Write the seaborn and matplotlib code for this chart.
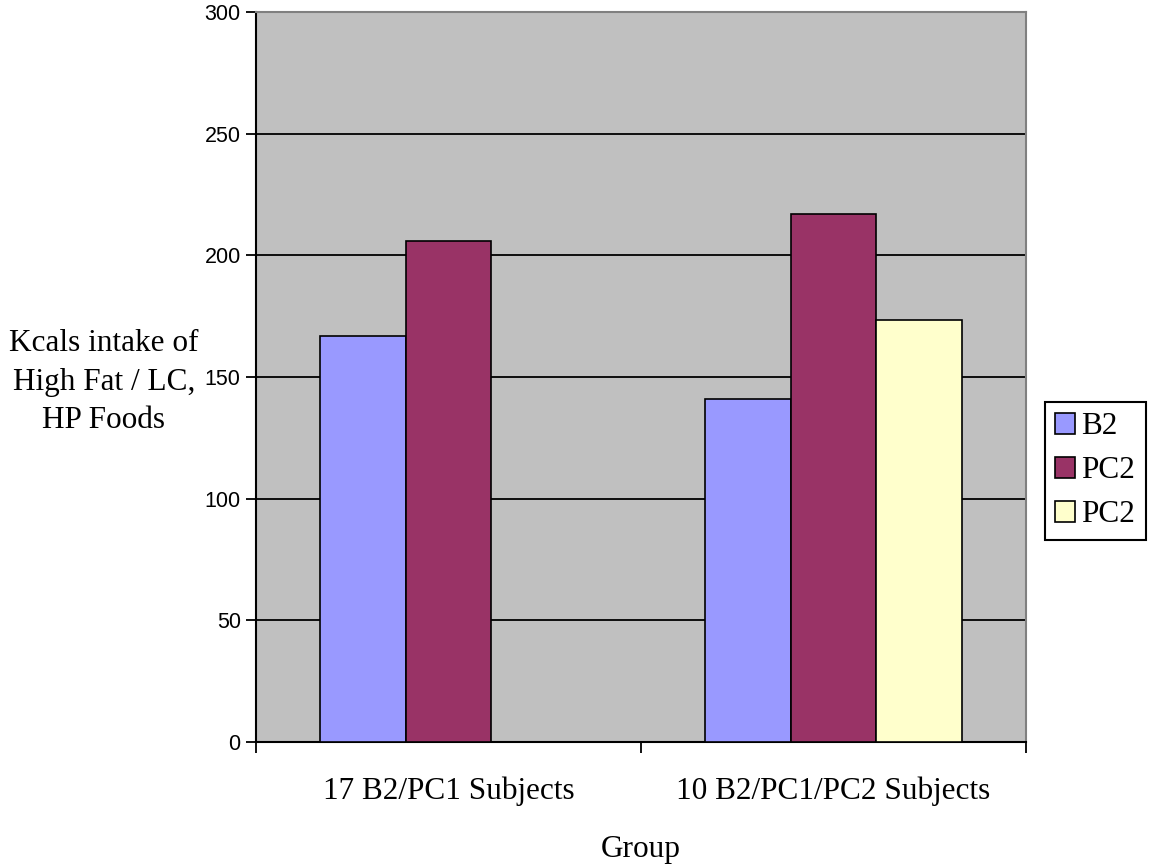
import matplotlib
matplotlib.use("Agg")
import matplotlib.pyplot as plt
from matplotlib.patches import Patch
from matplotlib.ticker import FixedLocator
import pandas as pd
import seaborn as sns

# Chart data
groups = ["17 B2/PC1 Subjects", "10 B2/PC1/PC2 Subjects"]
series_names = ["B2", "PC2", "PC2"]
series_colors = ["#9999FF", "#993366", "#FFFFCC"]
b2_values = [167, 141]
pc2_values = [206, 217]
pc2_late_values = [None, 173.5]  # second PC2 only measured in the 10-subject group
y_ticks = [0, 50, 100, 150, 200, 250, 300]

rows = []
for s_idx, vals in enumerate([b2_values, pc2_values, pc2_late_values]):
    for g, v in zip(groups, vals):
        if v is not None:
            rows.append({"group": g, "series": s_idx, "kcal": v})
df = pd.DataFrame(rows)

sns.set_theme(style="white")
serif = ["Liberation Serif", "DejaVu Serif"]
sans = ["Liberation Sans", "DejaVu Sans"]
plt.rcParams["font.family"] = serif
plt.rcParams["text.color"] = "black"
plt.rcParams["axes.labelcolor"] = "black"
plt.rcParams["xtick.color"] = "black"
plt.rcParams["ytick.color"] = "black"

fig = plt.figure(figsize=(11.52, 8.67), dpi=100)
ax = fig.add_axes([256 / 1152, 1 - 742 / 867, 770 / 1152, 730 / 867])
ax.set_facecolor("#C0C0C0")

sns.barplot(
    data=df, x="group", y="kcal", hue="series", order=groups,
    hue_order=[0, 1, 2], palette=series_colors, width=0.67, gap=0,
    edgecolor="black", linewidth=1.2, saturation=1, legend=False, ax=ax,
    zorder=3,
)

ax.set_xlim(-0.5, 1.5)
ax.set_ylim(0, 300)
ax.set_yticks(y_ticks)
ax.set_yticklabels([str(t) for t in y_ticks], family=sans, fontsize=15.5, color="black")
for t in y_ticks[1:-1]:
    ax.axhline(t, color="black", linewidth=1.3, zorder=1)

# Category labels centred, tick marks on the category boundaries
ax.xaxis.set_minor_locator(FixedLocator([-0.5, 0.5, 1.5]))
ax.tick_params(axis="x", which="major", length=0, pad=25, labelsize=22.5, labelcolor="black")
ax.tick_params(axis="x", which="minor", length=8, width=1.3, color="black", direction="out", bottom=True)
ax.tick_params(axis="y", which="major", length=7, width=1.3, color="black", direction="out", left=True, pad=4)
for lab in ax.get_xticklabels():
    lab.set_family(serif)

for side in ["left", "bottom"]:
    ax.spines[side].set_color("black")
    ax.spines[side].set_linewidth(1.5)
for side in ["top", "right"]:
    ax.spines[side].set_color("#808080")
    ax.spines[side].set_linewidth(1.5)
    ax.spines[side].set_visible(True)

ax.set_xlabel("Group", fontsize=22.5, va="center", color="black")
ax.xaxis.set_label_coords(0.5, (742 - 850) / 730)
ax.set_ylabel("Kcals intake of\nHigh Fat / LC,\nHP Foods", fontsize=22.5, rotation=0,
              ha="center", va="center", multialignment="center", linespacing=1.45,
              color="black")
ax.yaxis.set_label_coords((104 - 256) / 770, (742 - 382) / 730)

handles = [Patch(facecolor=c, edgecolor="black", linewidth=1.2) for c in series_colors]
leg = fig.legend(
    handles, series_names, loc="upper left",
    bbox_to_anchor=(1045 / 1152, 1 - 402 / 867), borderaxespad=0,
    fontsize=22.5, frameon=True, fancybox=False, shadow=False,
    handlelength=0.64, handleheight=0.64, handletextpad=0.2,
    labelspacing=0.48, borderpad=0.33,
)
leg.get_frame().set_edgecolor("black")
leg.get_frame().set_linewidth(1.5)
leg.get_frame().set_facecolor("white")
leg.get_frame().set_alpha(1)
for txt in leg.get_texts():
    txt.set_color("black")

fig.savefig("out.png", dpi=100, facecolor="white")
